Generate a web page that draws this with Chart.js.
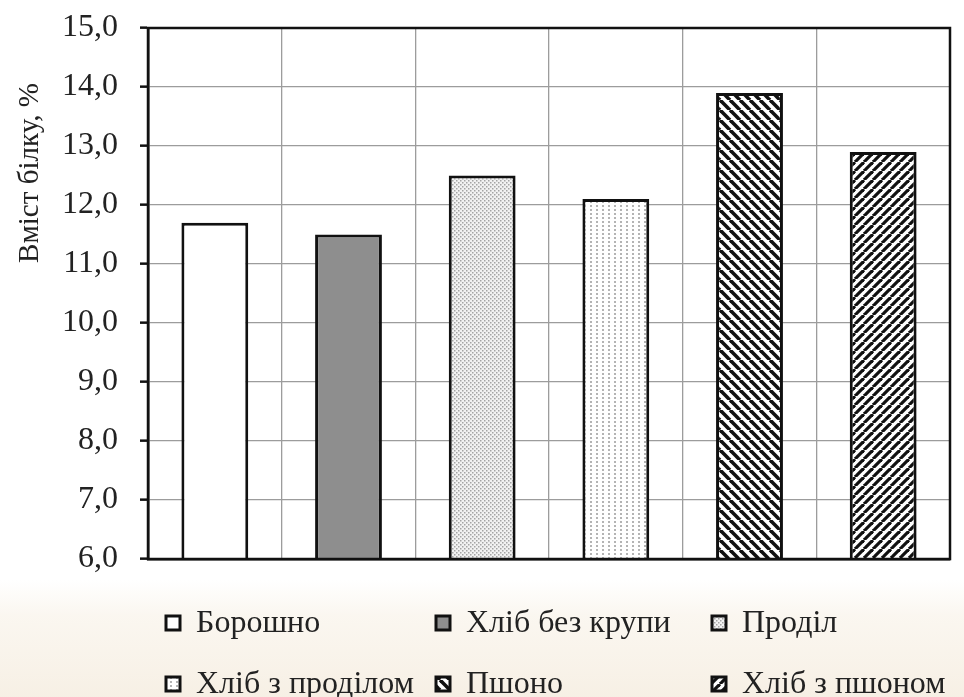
<!DOCTYPE html>
<html>
<head>
<meta charset="utf-8">
<script src="https://cdn.jsdelivr.net/npm/chart.js@4/dist/chart.umd.min.js"></script>
<style>
  html, body { margin: 0; padding: 0; background: #fff; }
  #wrap { width: 964px; height: 697px; position: relative; }
</style>
</head>
<body>
<div id="wrap"><canvas id="c" width="964" height="697"></canvas></div>
<script>
// Protein content of flour, grains and breads
const categories = ['Борошно', 'Хліб без крупи', 'Проділ', 'Хліб з проділом', 'Пшоно', 'Хліб з пшоном'];
const proteinValues = [11.7, 11.5, 12.5, 12.1, 13.9, 12.9];
const yMin = 6;
const yMax = 15;
const yStep = 1;
const yTitle = 'Вміст білку, %';

const SERIF = '"Liberation Serif", "DejaVu Serif", serif';

// ---- fill patterns ----
function tile(w, h, draw) {
  const c = document.createElement('canvas');
  c.width = w; c.height = h;
  const g = c.getContext('2d');
  draw(g, w, h);
  return g.createPattern(c, 'repeat');
}
const ctx = document.getElementById('c').getContext('2d');

const fillPlain = '#ffffff';
const fillGray = '#8e8e8e';
const fillDense = tile(4, 4, (g, w, h) => {
  g.fillStyle = '#f2f2f2'; g.fillRect(0, 0, w, h);
  g.fillStyle = '#a4a4a4';
  g.fillRect(0, 0, 1.5, 1.5);
  g.fillRect(2, 2, 1.5, 1.5);
});
const fillSparse = tile(6, 4, (g, w, h) => {
  g.fillStyle = '#ffffff'; g.fillRect(0, 0, w, h);
  g.fillStyle = '#b4b4b4';
  g.fillRect(2, 1, 2, 2);
});
function hatch(s, lw, down) {
  return tile(s, s, (g, w, h) => {
    g.fillStyle = '#ffffff'; g.fillRect(0, 0, w, h);
    g.strokeStyle = '#111';
    g.lineWidth = lw;
    for (let k = -1; k <= 1; k++) {
      g.beginPath();
      if (down) { g.moveTo(k * s, 0); g.lineTo(k * s + s, s); }
      else { g.moveTo(k * s, s); g.lineTo(k * s + s, 0); }
      g.stroke();
    }
  });
}
const fillHatchDown = hatch(10, 3.6, true);
const fillHatchUp = hatch(9, 3.2, false);

const barFills = [fillPlain, fillGray, fillDense, fillSparse, fillHatchDown, fillHatchUp];

// ---- plugins ----
const backdrop = {
  id: 'backdrop',
  beforeDraw(chart) {
    const c = chart.ctx;
    c.save();
    c.fillStyle = '#ffffff';
    c.fillRect(0, 0, chart.width, chart.height);
    const gr = c.createLinearGradient(0, 580, 0, chart.height);
    gr.addColorStop(0, 'rgba(247,240,228,0)');
    gr.addColorStop(0.3, 'rgba(247,240,228,0.55)');
    gr.addColorStop(1, 'rgba(245,237,224,0.85)');
    c.fillStyle = gr;
    c.fillRect(0, 580, chart.width, chart.height - 580);
    c.restore();
  }
};

const frame = {
  id: 'frame',
  afterDraw(chart) {
    const a = chart.chartArea;
    const c = chart.ctx;
    c.save();
    c.strokeStyle = '#111';
    c.lineWidth = 2.5;
    c.strokeRect(a.left, a.top, a.right - a.left, a.bottom - a.top);

    // rotated axis title
    c.translate(30, 173);
    c.rotate(-Math.PI / 2);
    c.fillStyle = '#222';
    c.font = '29px ' + SERIF;
    c.textAlign = 'center';
    c.textBaseline = 'middle';
    c.fillText(yTitle, 0, 0);
    c.restore();
  }
};

// legend laid out in three columns, two rows
const gridLegend = {
  id: 'gridLegend',
  afterDraw(chart) {
    const c = chart.ctx;
    const cols = [166, 436, 712];
    const rows = [623, 684];
    const fills = chart.data.datasets[0].backgroundColor;
    c.save();
    chart.data.labels.forEach((lab, i) => {
      const x = cols[i % 3];
      const y = rows[Math.floor(i / 3)];
      c.fillStyle = fills[i];
      c.fillRect(x, y - 7, 14, 14);
      c.strokeStyle = '#111';
      c.lineWidth = 3;
      c.strokeRect(x, y - 7, 14, 14);
      c.fillStyle = '#222';
      c.font = '32px ' + SERIF;
      c.textAlign = 'left';
      c.textBaseline = 'middle';
      c.fillText(lab, x + 30, y + 1);
    });
    c.restore();
  }
};

new Chart(ctx, {
  type: 'bar',
  data: {
    labels: categories,
    datasets: [{
      data: proteinValues,
      backgroundColor: barFills,
      borderColor: '#111',
      borderWidth: 3,
      borderSkipped: false,
      categoryPercentage: 1,
      barPercentage: 0.5
    }]
  },
  options: {
    responsive: false,
    animation: false,
    devicePixelRatio: 1,
    layout: { padding: { left: 0, top: 28, right: 14, bottom: 138 } },
    plugins: {
      legend: { display: false },
      tooltip: { enabled: false }
    },
    scales: {
      x: {
        grid: { color: '#9c9c9c', lineWidth: 1.3, drawTicks: false, offset: true },
        border: { color: '#111', width: 2.5 },
        ticks: { display: false },
        afterFit(s) { s.height = 0; s.paddingLeft = 0; s.paddingRight = 0; }
      },
      y: {
        min: yMin,
        max: yMax,
        ticks: {
          stepSize: yStep,
          padding: 22,
          color: '#222',
          font: { family: SERIF, size: 32 },
          callback: v => v.toFixed(1).replace('.', ',')
        },
        grid: { color: '#9c9c9c', lineWidth: 1.3, tickColor: '#111', tickLength: 8, tickWidth: 2.5 },
        border: { color: '#111', width: 2.5 },
        afterFit(s) { s.width = 148; s.paddingTop = 0; s.paddingBottom = 0; }
      }
    }
  },
  plugins: [backdrop, frame, gridLegend]
});
</script>
</body>
</html>
